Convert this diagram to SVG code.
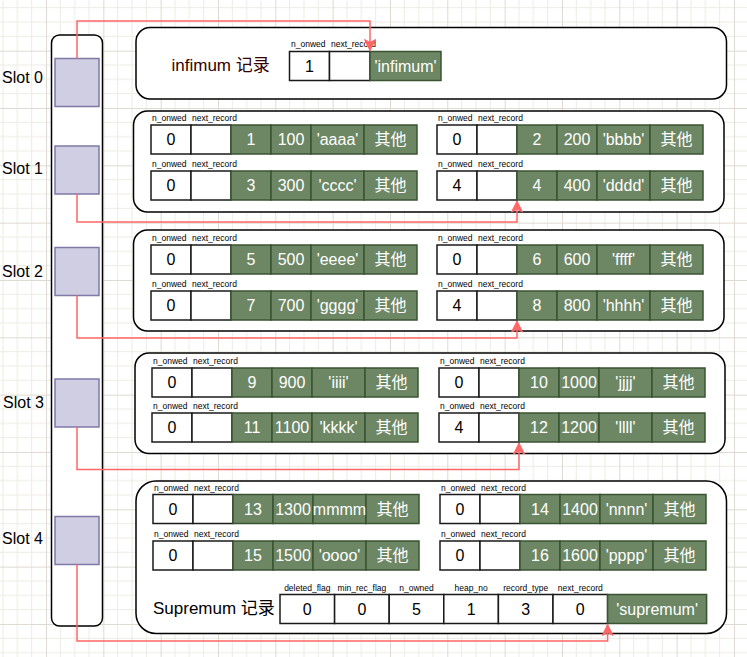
<svg xmlns="http://www.w3.org/2000/svg" xmlns:xlink="http://www.w3.org/1999/xlink" width="747" height="657" viewBox="0 0 747 657">
  <style>
    .w { fill: #ffffff; stroke: #1a1a1a; stroke-width: 1.5; }
    .g { fill: #6d8764; stroke: #3a5431; stroke-width: 1.5; }
    .box { fill: #ffffff; stroke: #000000; stroke-width: 1.5; }
    .slot { fill: #d0cee2; stroke: #7f79a8; stroke-width: 1.5; }
    .t { font-family: "Liberation Sans", Arial, "Noto Sans CJK SC", sans-serif; font-size: 16px; text-anchor: middle; fill: #000000; }
    .tw { font-family: "Liberation Sans", Arial, "Noto Sans CJK SC", sans-serif; font-size: 16px; text-anchor: middle; fill: #ffffff; }
    .lb { font-family: "Liberation Sans", Arial, sans-serif; font-size: 8.5px; fill: #000000; }
    .lbc { font-family: "Liberation Sans", Arial, sans-serif; font-size: 8.5px; fill: #000000; text-anchor: middle; }
    .big { font-family: "Liberation Sans", Arial, "Noto Sans CJK SC", sans-serif; font-size: 17px; fill: #000000; }
    .dark { fill: #330000; }
    .side { font-family: "Liberation Sans", Arial, sans-serif; font-size: 16px; fill: #000000; }
    .link { fill: none; stroke: #ff6666; stroke-width: 1.5; marker-end: url(#arrow); }
  </style>
  <defs>
    <pattern id="grid" patternUnits="userSpaceOnUse" x="46" y="50.67" width="57.33" height="57.33">
      <path d="M14.33,0 V57.33 M28.67,0 V57.33 M43,0 V57.33 M0,14.33 H57.33 M0,28.67 H57.33 M0,43 H57.33" stroke="#edebe5" stroke-width="1" fill="none"/>
      <path d="M0.5,0 V57.33 M0,0.5 H57.33" stroke="#dedad1" stroke-width="1" fill="none"/>
    </pattern>
    <marker id="arrow" markerUnits="userSpaceOnUse" markerWidth="14" markerHeight="14" viewBox="-12 -7 14 14" refX="0" refY="0" orient="auto">
      <path d="M0,0 L-11,-5.5 L-8,0 L-11,5.5 Z" fill="#ff6666" stroke="#ff6666" stroke-width="1"/>
    </marker>
    <!-- frame of one user record: header cells, payload cells and header field names -->
    <g id="rec">
      <rect class="w" x="0" y="0" width="40" height="29"/>
      <rect class="w" x="40" y="0" width="40" height="29"/>
      <rect class="g" x="80" y="0" width="40" height="29"/>
      <rect class="g" x="120" y="0" width="40" height="29"/>
      <rect class="g" x="160" y="0" width="53" height="29"/>
      <rect class="g" x="213" y="0" width="53" height="29"/>
      <text class="lb" x="1" y="-4">n_onwed</text>
      <text class="lb" x="41" y="-4">next_record</text>
    </g>
  </defs>

  <rect x="0" y="0" width="747" height="657" fill="#ffffff"/>
  <rect x="0" y="0" width="747" height="657" fill="url(#grid)"/>

  <!-- page directory -->
  <g id="directory">
    <rect class="box" x="51.5" y="35" width="51" height="591" rx="8" ry="8"/>
  </g>
  <g id="slot0"><rect class="slot" x="55" y="58.5" width="44" height="48"/><text class="side" x="2" y="83">Slot 0</text></g>
  <g id="slot1"><rect class="slot" x="55" y="146" width="44" height="48"/><text class="side" x="2" y="174">Slot 1</text></g>
  <g id="slot2"><rect class="slot" x="55" y="247.5" width="44" height="48"/><text class="side" x="2" y="277">Slot 2</text></g>
  <g id="slot3"><rect class="slot" x="55" y="379" width="44" height="48"/><text class="side" x="3" y="408">Slot 3</text></g>
  <g id="slot4"><rect class="slot" x="55" y="516.5" width="44" height="48"/><text class="side" x="2" y="544">Slot 4</text></g>

  <!-- infimum record -->
  <g id="infimum">
    <rect class="box" x="136" y="27.5" width="590.5" height="71.5" rx="14" ry="14"/>
    <text class="big dark" x="171.5" y="71">infimum 记录</text>
    <rect class="w" x="289.5" y="51.5" width="40" height="29"/>
    <rect class="w" x="329.5" y="51.5" width="40.5" height="29"/>
    <rect class="g" x="370" y="51.5" width="71" height="29"/>
    <text class="lb" x="291" y="47">n_onwed</text>
    <text class="lb" x="331" y="47">next_record</text>
    <text class="t" x="309.5" y="72">1</text>
    <text class="tw" x="405.5" y="72">'infimum'</text>
  </g>

  <!-- group owned by slot 1 -->
  <g id="group1">
    <rect class="box" x="133.5" y="111" width="590.5" height="101" rx="14" ry="14"/>
    <g transform="translate(151,125)"><use xlink:href="#rec"/>
      <text class="t" x="20" y="20">0</text><text class="tw" x="100" y="20">1</text><text class="tw" x="140" y="20">100</text><text class="tw" x="186.5" y="20">'aaaa'</text><text class="tw" x="239.5" y="20">其他</text></g>
    <g transform="translate(437,125)"><use xlink:href="#rec"/>
      <text class="t" x="20" y="20">0</text><text class="tw" x="100" y="20">2</text><text class="tw" x="140" y="20">200</text><text class="tw" x="186.5" y="20">'bbbb'</text><text class="tw" x="239.5" y="20">其他</text></g>
    <g transform="translate(151,171)"><use xlink:href="#rec"/>
      <text class="t" x="20" y="20">0</text><text class="tw" x="100" y="20">3</text><text class="tw" x="140" y="20">300</text><text class="tw" x="186.5" y="20">'cccc'</text><text class="tw" x="239.5" y="20">其他</text></g>
    <g transform="translate(437,171)"><use xlink:href="#rec"/>
      <text class="t" x="20" y="20">4</text><text class="tw" x="100" y="20">4</text><text class="tw" x="140" y="20">400</text><text class="tw" x="186.5" y="20">'dddd'</text><text class="tw" x="239.5" y="20">其他</text></g>
  </g>

  <!-- group owned by slot 2 -->
  <g id="group2">
    <rect class="box" x="133.5" y="230" width="590.5" height="101" rx="14" ry="14"/>
    <g transform="translate(151,245)"><use xlink:href="#rec"/>
      <text class="t" x="20" y="20">0</text><text class="tw" x="100" y="20">5</text><text class="tw" x="140" y="20">500</text><text class="tw" x="186.5" y="20">'eeee'</text><text class="tw" x="239.5" y="20">其他</text></g>
    <g transform="translate(437,245)"><use xlink:href="#rec"/>
      <text class="t" x="20" y="20">0</text><text class="tw" x="100" y="20">6</text><text class="tw" x="140" y="20">600</text><text class="tw" x="186.5" y="20">'ffff'</text><text class="tw" x="239.5" y="20">其他</text></g>
    <g transform="translate(151,291)"><use xlink:href="#rec"/>
      <text class="t" x="20" y="20">0</text><text class="tw" x="100" y="20">7</text><text class="tw" x="140" y="20">700</text><text class="tw" x="186.5" y="20">'gggg'</text><text class="tw" x="239.5" y="20">其他</text></g>
    <g transform="translate(437,291)"><use xlink:href="#rec"/>
      <text class="t" x="20" y="20">4</text><text class="tw" x="100" y="20">8</text><text class="tw" x="140" y="20">800</text><text class="tw" x="186.5" y="20">'hhhh'</text><text class="tw" x="239.5" y="20">其他</text></g>
  </g>

  <!-- group owned by slot 3 -->
  <g id="group3">
    <rect class="box" x="135" y="353" width="590" height="100.5" rx="14" ry="14"/>
    <g transform="translate(152,368)"><use xlink:href="#rec"/>
      <text class="t" x="20" y="20">0</text><text class="tw" x="100" y="20">9</text><text class="tw" x="140" y="20">900</text><text class="tw" x="186.5" y="20">'iiii'</text><text class="tw" x="239.5" y="20">其他</text></g>
    <g transform="translate(439,368)"><use xlink:href="#rec"/>
      <text class="t" x="20" y="20">0</text><text class="tw" x="100" y="20">10</text><text class="tw" x="140" y="20">1000</text><text class="tw" x="186.5" y="20">'jjjj'</text><text class="tw" x="239.5" y="20">其他</text></g>
    <g transform="translate(152,413)"><use xlink:href="#rec"/>
      <text class="t" x="20" y="20">0</text><text class="tw" x="100" y="20">11</text><text class="tw" x="140" y="20">1100</text><text class="tw" x="186.5" y="20">'kkkk'</text><text class="tw" x="239.5" y="20">其他</text></g>
    <g transform="translate(439,413)"><use xlink:href="#rec"/>
      <text class="t" x="20" y="20">4</text><text class="tw" x="100" y="20">12</text><text class="tw" x="140" y="20">1200</text><text class="tw" x="186.5" y="20">'llll'</text><text class="tw" x="239.5" y="20">其他</text></g>
  </g>

  <!-- group owned by slot 4, ending with the supremum record -->
  <g id="group4">
    <rect class="box" x="136" y="481" width="590.5" height="152.5" rx="20" ry="20"/>
    <g transform="translate(153,494.5)"><use xlink:href="#rec"/>
      <text class="t" x="20" y="20">0</text><text class="tw" x="100" y="20">13</text><text class="tw" x="140" y="20">1300</text><text class="tw" x="186.5" y="20">mmmm</text><text class="tw" x="239.5" y="20">其他</text></g>
    <g transform="translate(440,494.5)"><use xlink:href="#rec"/>
      <text class="t" x="20" y="20">0</text><text class="tw" x="100" y="20">14</text><text class="tw" x="140" y="20">1400</text><text class="tw" x="186.5" y="20">'nnnn'</text><text class="tw" x="239.5" y="20">其他</text></g>
    <g transform="translate(153,541)"><use xlink:href="#rec"/>
      <text class="t" x="20" y="20">0</text><text class="tw" x="100" y="20">15</text><text class="tw" x="140" y="20">1500</text><text class="tw" x="186.5" y="20">'oooo'</text><text class="tw" x="239.5" y="20">其他</text></g>
    <g transform="translate(440,541)"><use xlink:href="#rec"/>
      <text class="t" x="20" y="20">0</text><text class="tw" x="100" y="20">16</text><text class="tw" x="140" y="20">1600</text><text class="tw" x="186.5" y="20">'pppp'</text><text class="tw" x="239.5" y="20">其他</text></g>
  </g>
  <g id="supremum">
    <text class="big" x="153" y="614">Supremum 记录</text>
    <rect class="w" x="280" y="594.5" width="54.6" height="29"/>
    <rect class="w" x="334.6" y="594.5" width="54.6" height="29"/>
    <rect class="w" x="389.2" y="594.5" width="54.6" height="29"/>
    <rect class="w" x="443.8" y="594.5" width="54.6" height="29"/>
    <rect class="w" x="498.4" y="594.5" width="54.6" height="29"/>
    <rect class="w" x="553" y="594.5" width="54.6" height="29"/>
    <rect class="g" x="607.6" y="594.5" width="99" height="29"/>
    <text class="lbc" x="307.3" y="590.5">deleted_flag</text>
    <text class="lbc" x="361.9" y="590.5">min_rec_flag</text>
    <text class="lbc" x="416.5" y="590.5">n_owned</text>
    <text class="lbc" x="471.1" y="590.5">heap_no</text>
    <text class="lbc" x="525.7" y="590.5">record_type</text>
    <text class="lbc" x="580.3" y="590.5">next_record</text>
    <text class="t" x="307.3" y="615">0</text>
    <text class="t" x="361.9" y="615">0</text>
    <text class="t" x="416.5" y="615">5</text>
    <text class="t" x="471.1" y="615">1</text>
    <text class="t" x="525.7" y="615">3</text>
    <text class="t" x="580.3" y="615">0</text>
    <text class="tw" x="657.1" y="615">'supremum'</text>
  </g>

  <!-- slot pointers to the last record of each group -->
  <g id="connectors">
    <path class="link" d="M77,58.5 V21 H370 V50.5"/>
    <path class="link" d="M77,194 V222 H517 V201"/>
    <path class="link" d="M77,295.5 V338 H517 V321"/>
    <path class="link" d="M77,427 V469.5 H519 V443"/>
    <path class="link" d="M77,564.5 V641 H607.6 V624.5"/>
  </g>
</svg>
